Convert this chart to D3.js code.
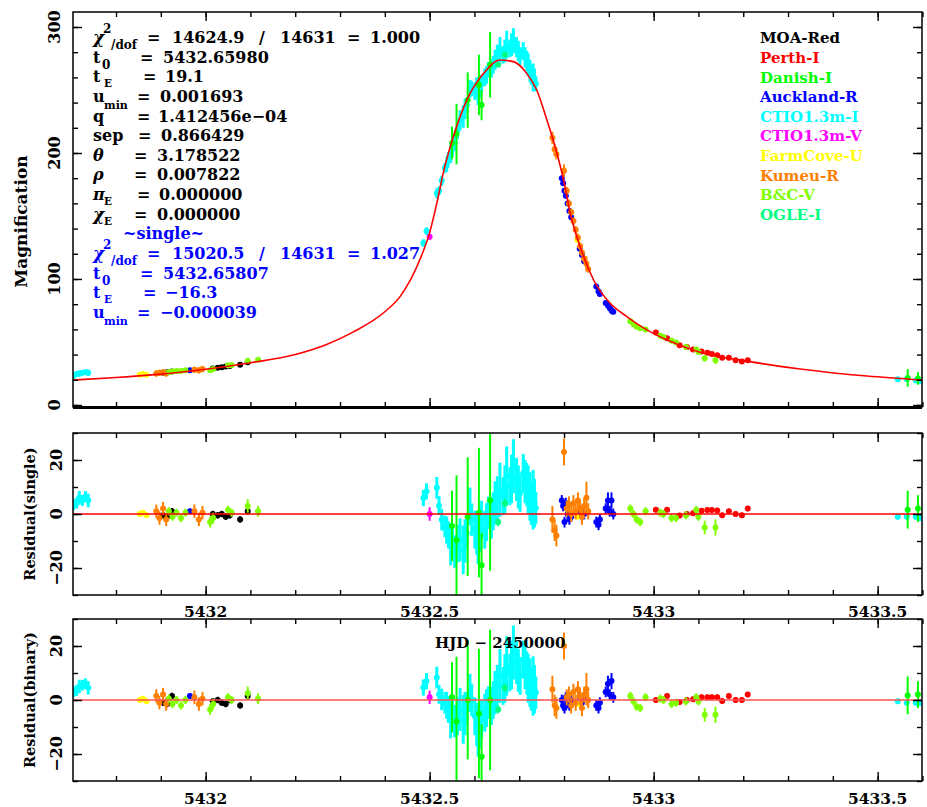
<!DOCTYPE html>
<html>
<head>
<meta charset="utf-8">
<title>Light curve fit</title>
<script src="https://d3js.org/d3.v7.min.js"></script>
<style>
body { margin: 0; background: #fff; }
svg text { font-family: "DejaVu Serif", serif; font-weight: bold; }
.axis path { display: none; }
.axis line { stroke: #000; stroke-width: 1.4; }
</style>
</head>
<body>
<svg width="927" height="807"></svg>
<script>

// model light curve (binary fit): time and magnification
var modelT = [5431.704, 5431.80, 5431.90, 5432.00, 5432.10, 5432.20, 5432.27, 5432.33, 5432.40, 5432.434,
              5432.479, 5432.501, 5432.516, 5432.531, 5432.553, 5432.583, 5432.620, 5432.657, 5432.687, 5432.717,
              5432.739, 5432.762, 5432.784, 5432.799, 5432.814, 5432.836, 5432.866, 5432.903, 5432.941, 5432.993,
              5433.03, 5433.10, 5433.215, 5433.327, 5433.476, 5433.599];
var modelA = [19.8, 21.8, 24.5, 28.3, 33.5, 40, 48, 58, 74, 86,
              116, 138, 160, 185, 213, 242, 263, 273.8, 272.5, 263,
              250, 226, 200, 178.6, 152, 125.6, 99.2, 80.7, 70, 58,
              51.6, 42.3, 34.4, 28.6, 23, 19.8];

// rows: [HJD-2450000, magnification, residual(single), residual(binary), error]
var moaRed = [
  [5431.905, 25.5, -0.5, -1, 1.2], [5431.914, 26, -1, -1.5, 1.2], [5431.925, 26.5, 1, 1.5, 1.2],
  [5432.016, 29, 0, -0.5, 1.2], [5432.027, 29.5, -0.5, 0, 1.2], [5432.036, 30, 0, -1, 1.2],
  [5432.045, 30.5, -1, -1.5, 1.2], [5432.054, 31, -0.5, 0, 1.2], [5432.077, 32, -2, -2, 1.2],
  [5432.094, 34, 1, 1.5, 1.2]
];
var perthI = [
  [5433.005, 57.5, 1.6, 0, 1], [5433.030, 53, 1.6, 1.5, 1], [5433.058, 47.5, -0.6, -0.7, 1],
  [5433.074, 46, 0, 0, 1], [5433.088, 44, 0.3, 0.3, 1], [5433.107, 42.5, 1.2, 1, 1],
  [5433.120, 41.5, 1.5, 1, 1], [5433.130, 40.5, 1.5, 1, 1], [5433.142, 39.5, 1.3, 1, 1],
  [5433.153, 37.5, -0.5, -0.4, 1], [5433.168, 37.5, 1, 1.5, 1], [5433.183, 35.5, 0, 0, 1],
  [5433.197, 34.5, -0.5, 0, 1], [5433.210, 35.5, 2, 2, 1]
];
var danishI = [
  [5432.550, 208, -4.4, 1, 13], [5432.560, 215, -9.7, -8, 24], [5432.585, 242, -1, 0, 22],
  [5432.610, 254, 0.5, -5, 24], [5432.616, 238, -19, -21, 12], [5432.635, 270, 5, 0, 26],
  [5433.567, 21.5, 1.6, 1.7, 7], [5433.590, 21, 2, 2, 5]
];
var aucklandR = [
  [5431.965, 27.5, 1, 1.5, 1],
  [5432.795, 180, 5, 0, 2], [5432.798, 176, 3, -2, 2], [5432.801, 170, -3, -3, 2],
  [5432.804, 166, 4, 1, 2], [5432.808, 160, 0, -1, 2], [5432.812, 154, -2, -2, 2],
  [5432.816, 149, -1, 0, 2], [5432.835, 124, 1, 1, 2], [5432.840, 119, -1, -1, 2],
  [5432.845, 114, 0, 1, 2], [5432.872, 94, -3, -2, 2], [5432.877, 90, -4, -3, 2],
  [5432.880, 88, -2, -1, 2], [5432.893, 81, 2, 3, 2], [5432.898, 79, 5, 6, 3],
  [5432.902, 77, 1, 2, 2], [5432.906, 75, 5, 7, 3], [5432.910, 74, 0, 1, 2]
];
var ctioI = [
  [5431.705, 23, 3.5, 3, 2], [5431.712, 24.5, 4, 3.5, 2], [5431.718, 25, 6, 5, 2.5],
  [5431.725, 25.5, 5, 5.5, 2], [5431.732, 26, 6.5, 6, 2], [5431.738, 25.5, 5, 4.5, 2.5],
  [5432.486, 128.5, 5.9, 4.6, 3], [5432.493, 138, 8.4, 7, 3], [5432.516, 168, 9.7, 8.3, 4],
  [5432.521, 170, 3.1, 2.1, 3.5], [5432.527, 178, -2.1, 0.2, 4], [5432.534, 188, -4.6, -1, 4],
  [5432.538, 190, -6, -2, 5], [5432.542, 196, -7.7, -3.5, 5], [5432.547, 199, -12, -7.2, 7],
  [5432.551, 203, -10, -6, 6], [5432.556, 208, -13.9, -7.8, 6], [5432.562, 218, -11, -6, 7],
  [5432.568, 226, -9.6, -3.5, 8], [5432.575, 229, -13.3, -7.2, 9], [5432.579, 235, -10, -5, 8],
  [5432.583, 238, -7.1, -3.5, 6], [5432.590, 251, 2.8, 2.7, 7], [5432.594, 251, -2.1, 0, 6],
  [5432.601, 249, -5.8, -6, 7], [5432.605, 252, -7, -9, 8], [5432.608, 247, -9.6, -12, 9],
  [5432.612, 252, -6, -10, 8], [5432.616, 255, -2.1, -7, 7], [5432.623, 260, -5.8, -4.7, 7],
  [5432.627, 262, -3, -3, 7], [5432.631, 266, 0.4, -1, 6], [5432.638, 267, -2.1, -2.2, 7],
  [5432.642, 270, 1, 0, 7], [5432.646, 274, 4.1, 2.7, 8], [5432.651, 278, 6, 5, 8],
  [5432.657, 282, 9, 8.9, 10], [5432.664, 278, 6.6, 5.2, 7], [5432.668, 281, 9, 8, 9],
  [5432.672, 286, 14, 12.6, 11], [5432.679, 283, 10.3, 10.2, 7], [5432.683, 286, 13, 13, 9],
  [5432.687, 289, 17.7, 17.6, 10], [5432.694, 284, 12.8, 13.9, 8], [5432.698, 281, 10, 11, 8],
  [5432.702, 277, 7.8, 8.9, 7], [5432.709, 281, 15.2, 15, 7], [5432.713, 276, 12, 12, 8],
  [5432.717, 273, 10.9, 10, 8], [5432.720, 270, 9, 8, 9], [5432.724, 265, 6.5, 6.4, 9],
  [5432.727, 262, 4, 4, 8], [5432.731, 260, 5.3, 5.2, 11], [5432.734, 258, 4, 4, 9],
  [5432.737, 255, 2.2, 2.7, 6],
  [5433.545, 20.5, -1, -0.5, 1], [5433.565, 20.5, -1, -1, 1], [5433.585, 19.5, -1, -1, 1],
  [5433.595, 19, -1.5, -1, 1]
];
var ctioV = [
  [5432.500, 133.5, 0, 1, 2.5]
];
var farmCoveU = [
  [5431.853, 24, 0, 0, 1], [5431.860, 24.5, 0.5, 0.5, 1], [5431.868, 24, -0.5, -0.5, 1],
  [5432.830, 131, -1, -1.5, 0.8]
];
var kumeuR = [
  [5431.890, 25, 1, 1.5, 2.5], [5431.897, 25.5, -1.5, -1, 2.5], [5431.905, 26, 2, 2, 2.5],
  [5431.912, 25, -2, -1.5, 2.5], [5431.975, 28, 1, 1, 2.5], [5431.985, 27.5, -2, -1.5, 2.5],
  [5431.993, 28.5, 0.5, 0.5, 2.5],
  [5432.774, 212, -2, 4, 5], [5432.779, 203, -6, -2, 4], [5432.783, 199, -8, -3, 4],
  [5432.800, 186, 23, 20, 5], [5432.806, 170, 2, 1, 3], [5432.811, 160, 3.5, 2, 3],
  [5432.816, 153, 0, -2, 3], [5432.821, 146, 4, 3, 3], [5432.826, 139, 1, -1, 3],
  [5432.831, 133, 5, 4, 3], [5432.836, 126, 2, 1, 3], [5432.840, 121, -1, -3, 3],
  [5432.845, 116, 3, 2, 3], [5432.850, 112, 6, 4, 6], [5432.854, 108, 1, 0, 3]
];
var bcV = [
  [5431.918, 26, 1, 0.5, 1.5], [5431.926, 26.5, -1, -1.5, 1.5], [5431.935, 27, 0.5, 0, 1.5],
  [5431.945, 27, -1.5, -2, 1.5], [5431.955, 27.5, 0.5, 0, 1.5], [5432.010, 27.5, -3, -3.5, 2],
  [5432.017, 28.5, -1.5, -1.5, 2], [5432.050, 31.5, 1.5, 1, 1.5], [5432.058, 31.5, 0.5, 0, 1.5],
  [5432.094, 35, 3, 2.5, 2.5], [5432.117, 36, 1, 0.5, 2],
  [5432.948, 66.5, 2, 1.5, 1.5], [5432.955, 64, 0, -0.5, 1.5], [5432.962, 62, -2, -2.5, 1.5],
  [5432.970, 61, -3, -3, 1.5], [5432.982, 60, 1, 1, 1.5], [5433.015, 55, 0.5, 0.5, 1.5],
  [5433.022, 54, 0, 0, 1.5], [5433.040, 51, -1.5, -1.5, 1.5], [5433.050, 49.5, -1.5, -1, 1.5],
  [5433.072, 46, -0.5, -0.5, 1.5], [5433.095, 44, 1.5, 1, 1.5], [5433.100, 42, -1, -0.5, 1.5],
  [5433.114, 37, -5, -5.5, 2.5], [5433.138, 35.5, -5, -5.5, 3]
];
var ogleI = [
  [5432.653, 270, -3, -3.5, 1.5], [5432.668, 278, 4, 4.5, 1.5]
];

var legendNames = ["MOA-Red", "Perth-I", "Danish-I", "Auckland-R", "CTIO1.3m-I",
                   "CTIO1.3m-V", "FarmCove-U", "Kumeu-R", "B&C-V", "OGLE-I"];
var colors = ["#000000", "#ff0000", "#00ff00", "#0000ff", "#00ffff",
              "#ff00ff", "#ffff00", "#ff8000", "#80ff00", "#00ff80"];
var seriesData = [moaRed, perthI, danishI, aucklandR, ctioI, ctioV, farmCoveU, kumeuR, bcV, ogleI];
var drawOrder = [4, 0, 1, 3, 5, 6, 7, 8, 2, 9];

var xMajor = [5432, 5432.5, 5433, 5433.5];
var xLabels = ["5432", "5432.5", "5433", "5433.5"];
var magMajor = [0, 100, 200, 300];
var magLabels = ["0", "100", "200", "300"];
var resMajor = [-20, 0, 20];
var resLabels = ["\u221220", "0", "20"];

var svg = d3.select("svg");
var L = 73, R = 922;
var x = d3.scaleLinear().domain([5431.704, 5433.599]).range([L, R]);
var xMinor = d3.range(5431.8, 5433.6, 0.1);

var panels = [
  { id: "mag", col: 1, top: 12, bottom: 407, dom: [-1.6, 311.9], major: magMajor, labels: magLabels,
    minor: d3.range(0, 311, 20), title: "Magnification", titleX: 27, titleSize: 17, labX: 60 },
  { id: "rs", col: 2, top: 433, bottom: 595, dom: [-30, 30], major: resMajor, labels: resLabels,
    minor: d3.range(-30, 31, 10), title: "Residual(single)", titleX: 35, titleSize: 14.5, labX: 62,
    xLabY: 617, line: "#ff0000" },
  { id: "rb", col: 3, top: 619, bottom: 781, dom: [-30, 30], major: resMajor, labels: resLabels,
    minor: d3.range(-30, 31, 10), title: "Residual(binary)", titleX: 35, titleSize: 14.5, labX: 62,
    xLabY: 804, line: "#ff5050" }
];

panels.forEach(function(p) {
  var y = d3.scaleLinear().domain(p.dom).range([p.bottom, p.top]);
  var g = svg.append("g");

  svg.append("clipPath").attr("id", "clip-" + p.id)
    .append("rect").attr("x", L).attr("y", p.top).attr("width", R - L).attr("height", p.bottom - p.top);

  var plot = g.append("g").attr("clip-path", "url(#clip-" + p.id + ")");

  drawOrder.forEach(function(i) {
    var pts = seriesData[i];
    var s = plot.append("g");
    s.selectAll("line").data(pts).join("line")
      .attr("x1", function(d) { return x(d[0]); })
      .attr("x2", function(d) { return x(d[0]); })
      .attr("y1", function(d) { return y(d[p.col] - d[4]); })
      .attr("y2", function(d) { return y(d[p.col] + d[4]); })
      .attr("stroke", colors[i])
      .attr("stroke-width", i === 4 ? 3 : 2);
    s.selectAll("circle").data(pts).join("circle")
      .attr("cx", function(d) { return x(d[0]); })
      .attr("cy", function(d) { return y(d[p.col]); })
      .attr("r", 3)
      .attr("fill", colors[i]);
  });

  if (p.id === "mag") {
    var line = d3.line()
      .x(function(d, i) { return x(modelT[i]); })
      .y(function(d) { return y(d); })
      .curve(d3.curveMonotoneX);
    plot.append("path").datum(modelA)
      .attr("d", line)
      .attr("fill", "none")
      .attr("stroke", "#ff0000")
      .attr("stroke-width", 1.6);
  } else {
    plot.append("line")
      .attr("x1", L).attr("x2", R)
      .attr("y1", y(0)).attr("y2", y(0))
      .attr("stroke", p.line)
      .attr("stroke-width", 1.6);
  }

  // inward ticks on all four sides
  function ax(gen, sc, vals, size, tr) {
    g.append("g").attr("class", "axis").attr("transform", tr)
      .call(gen(sc).tickValues(vals).tickSize(-size).tickFormat(""));
  }
  ax(d3.axisBottom, x, xMinor, 5, "translate(0," + p.bottom + ")");
  ax(d3.axisBottom, x, xMajor, 9, "translate(0," + p.bottom + ")");
  ax(d3.axisTop, x, xMinor, 5, "translate(0," + p.top + ")");
  ax(d3.axisTop, x, xMajor, 9, "translate(0," + p.top + ")");
  ax(d3.axisLeft, y, p.minor, 5, "translate(" + L + ",0)");
  ax(d3.axisLeft, y, p.major, 9, "translate(" + L + ",0)");
  ax(d3.axisRight, y, p.minor, 5, "translate(" + R + ",0)");
  ax(d3.axisRight, y, p.major, 9, "translate(" + R + ",0)");

  g.append("rect")
    .attr("x", L).attr("y", p.top).attr("width", R - L).attr("height", p.bottom - p.top)
    .attr("fill", "none").attr("stroke", "#000").attr("stroke-width", 1.5);

  // y tick labels, rotated
  p.major.forEach(function(v, i) {
    g.append("text")
      .attr("transform", "translate(" + p.labX + "," + y(v) + ") rotate(-90)")
      .attr("text-anchor", "middle")
      .attr("font-size", 16)
      .text(p.labels[i]);
  });

  g.append("text")
    .attr("transform", "translate(" + p.titleX + "," + ((p.top + p.bottom) / 2 + (p.id === "mag" ? 12 : 0)) + ") rotate(-90)")
    .attr("text-anchor", "middle")
    .attr("font-size", p.titleSize)
    .text(p.title);

  if (p.xLabY) {
    xMajor.forEach(function(v, i) {
      g.append("text")
        .attr("x", x(v)).attr("y", p.xLabY)
        .attr("text-anchor", "middle")
        .attr("font-size", 15.5)
        .text(xLabels[i]);
    });
  }
});

// thick baseline under the magnification panel
svg.append("line").attr("x1", L).attr("x2", R).attr("y1", 407.5).attr("y2", 407.5)
  .attr("stroke", "#000").attr("stroke-width", 3);

svg.append("text").attr("x", 435).attr("y", 648).attr("font-size", 15).text("HJD \u2212 2450000");

// legend
legendNames.forEach(function(n, i) {
  svg.append("text").attr("x", 760).attr("y", 43.3 + i * 19.6)
    .attr("font-size", 15).attr("fill", colors[i]).text(n);
});

// fit parameters: pieces [text, x, baseline shift, size, italic]
function fitLine(y, color, pieces) {
  pieces.forEach(function(pc) {
    svg.append("text")
      .attr("x", pc[1]).attr("y", y + (pc[2] || 0))
      .attr("font-size", pc[3] || 16)
      .attr("font-style", pc[4] ? "italic" : null)
      .attr("fill", color)
      .text(pc[0]);
  });
}
var binaryChi = ["14624.9", "14631", "1.000"];
var singleChi = ["15020.5", "14631", "1.027"];
function chiLine(y, color, v) {
  fitLine(y, color, [["\u03c7", 93, 0, 17, 1], ["2", 103, -10, 12], ["/dof", 111, 6, 12], ["=", 147],
    [v[0], 172], ["/", 259], [v[1], 280], ["=", 347], [v[2], 370]]);
}
var sp = 19.64;
chiLine(43, "#000", binaryChi);
fitLine(43 + sp, "#000", [["t", 93], ["0", 102, 6, 12], ["=", 140], ["5432.65980", 163]]);
fitLine(43 + 2 * sp, "#000", [["t", 93], ["E", 104, 5, 10.5], ["=", 143], ["19.1", 165]]);
fitLine(43 + 3 * sp, "#000", [["u", 93], ["min", 104, 7, 11], ["=", 137], ["0.001693", 160]]);
fitLine(43 + 4 * sp, "#000", [["q", 93], ["=", 137], ["1.412456e\u221204", 158]]);
fitLine(43 + 5 * sp, "#000", [["sep", 93], ["=", 138], ["0.866429", 161]]);
fitLine(43 + 6 * sp, "#000", [["\u03b8", 93, 0, 16, 1], ["=", 134], ["3.178522", 157]]);
fitLine(43 + 7 * sp, "#000", [["\u03c1", 93, 0, 16, 1], ["=", 134], ["0.007822", 157]]);
fitLine(43 + 8 * sp, "#000", [["\u03c0", 93, 0, 16, 1], ["E", 104, 5, 10.5], ["=", 137], ["0.000000", 159]]);
fitLine(43 + 9 * sp, "#000", [["\u03c7", 93, 0, 17, 1], ["E", 104, 5, 10.5], ["=", 134], ["0.000000", 157]]);
fitLine(43 + 10 * sp, "#0000ff", [["~single~", 123]]);
chiLine(43 + 11 * sp, "#0000ff", singleChi);
fitLine(43 + 12 * sp, "#0000ff", [["t", 93], ["0", 102, 6, 12], ["=", 140], ["5432.65807", 163]]);
fitLine(43 + 13 * sp, "#0000ff", [["t", 93], ["E", 104, 5, 10.5], ["=", 143], ["\u221216.3", 165]]);
fitLine(43 + 14 * sp, "#0000ff", [["u", 93], ["min", 104, 7, 11], ["=", 137], ["\u22120.000039", 160]]);

</script>
</body>
</html>
